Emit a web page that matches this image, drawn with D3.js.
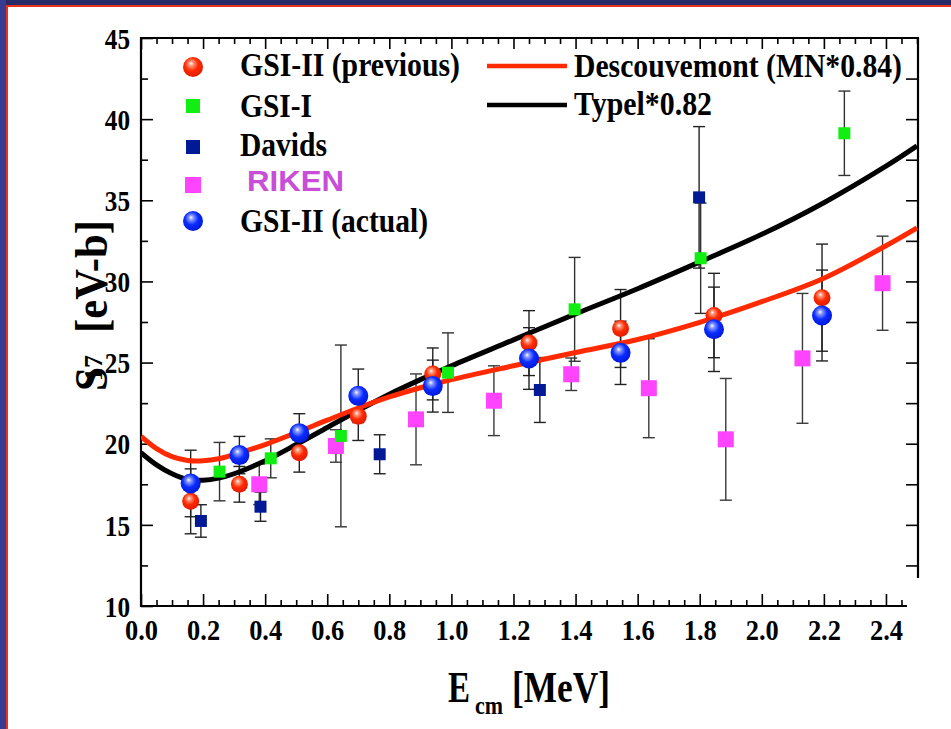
<!DOCTYPE html>
<html>
<head>
<meta charset="utf-8">
<script src="https://cdn.jsdelivr.net/npm/d3@7"></script>
<style>
  html, body { margin: 0; padding: 0; background: #fff; }
  svg { display: block; }
</style>
</head>
<body>
<svg id="chart" width="951" height="729"></svg>
<script>
// ---------------- DATA ----------------
const yTickValues = [10, 15, 20, 25, 30, 35, 40, 45];
const xTickValues = [0.0, 0.2, 0.4, 0.6, 0.8, 1.0, 1.2, 1.4, 1.6, 1.8, 2.0, 2.2, 2.4];

// GSI-II (previous)
const gsi2prevE   = [0.16, 0.317, 0.51, 0.70, 0.94, 1.25, 1.545, 1.846, 2.194];
const gsi2prevS   = [16.45, 17.5, 19.45, 21.7, 24.3, 26.2, 27.1, 27.9, 29.0];
const gsi2prevErr = [2.0, 1.1, 1.2, 1.5, 1.6, 2.0, 2.4, 2.6, 3.3];

// GSI-II (actual)
const gsi2actE   = [0.16, 0.317, 0.51, 0.70, 0.94, 1.25, 1.545, 1.846, 2.194];
const gsi2actS   = [17.55, 19.3, 20.65, 22.95, 23.55, 25.25, 25.6, 27.05, 27.9];
const gsi2actErr = [2.05, 1.15, 1.2, 1.65, 1.6, 1.9, 1.95, 2.6, 2.8];

// GSI-I
const gsi1E   = [0.253, 0.418, 0.644, 0.989, 1.397, 1.803, 2.266];
const gsi1S   = [18.28, 19.1, 20.48, 24.38, 28.28, 31.43, 39.13];
const gsi1Err = [1.8, 1.2, 5.6, 2.45, 3.2, 3.4, 2.6];

// Davids
const davidsE   = [0.193, 0.385, 0.769, 1.285, 1.798];
const davidsS   = [15.24, 16.12, 19.35, 23.31, 35.18];
const davidsErr = [1.0, 0.9, 1.2, 2.0, 4.36];

// RIKEN
const rikenE   = [0.381, 0.628, 0.886, 1.137, 1.386, 1.636, 1.884, 2.131, 2.389];
const rikenS   = [17.5, 19.86, 21.5, 22.65, 24.28, 23.42, 20.27, 25.26, 29.89];
const rikenErr = [1.25, 1.0, 2.8, 2.15, 1.0, 3.05, 3.75, 4.0, 2.9];

// Theory curves
const curveE     = [0, 0.05, 0.1, 0.15, 0.2, 0.25, 0.3, 0.4, 0.5, 0.6, 0.7, 0.8, 0.9, 1.0, 1.2, 1.4, 1.6, 1.8, 2.0, 2.2, 2.4, 2.5];
const descouvS   = [20.45, 19.7, 19.2, 18.97, 18.95, 19.07, 19.33, 19.95, 20.68, 21.45, 22.2, 22.88, 23.45, 23.95, 24.8, 25.62, 26.42, 27.48, 28.75, 30.2, 32.2, 33.3];
const typelS     = [19.45, 18.7, 18.15, 17.8, 17.75, 17.88, 18.15, 18.95, 19.95, 21.0, 22.05, 23.05, 23.95, 24.8, 26.4, 28.0, 29.55, 31.2, 32.9, 34.85, 37.1, 38.35];

const seriesNames = ["GSI-II (previous)", "GSI-I", "Davids", "RIKEN", "GSI-II (actual)"];
const curveNames  = ["Descouvemont (MN*0.84)", "Typel*0.82"];

// ---------------- DRAWING ----------------
const svg = d3.select("#chart");
const W = 951, H = 729;
const serif = "'Liberation Serif', 'Times New Roman', serif";

const x = d3.scaleLinear().domain([0, 2.5]).range([141, 917]);
const y = d3.scaleLinear().domain([10, 45]).range([606, 38]);

// background & frame border
svg.append("rect").attr("width", W).attr("height", H).attr("fill", "#fff");
svg.append("rect").attr("x", 0).attr("y", 0).attr("width", W).attr("height", 5).attr("fill", "#272a66");
svg.append("rect").attr("x", 0).attr("y", 5).attr("width", W).attr("height", 2).attr("fill", "#e8321c");
svg.append("rect").attr("x", 0).attr("y", 0).attr("width", 6).attr("height", H).attr("fill", "#373c92");
svg.append("rect").attr("x", 6).attr("y", 5).attr("width", 2).attr("height", H - 5).attr("fill", "#e8321c");

// gradients for spheres
const defs = svg.append("defs");
function sphereGrad(id, light, base, dark) {
  const g = defs.append("radialGradient").attr("id", id)
    .attr("cx", "45%").attr("cy", "40%").attr("r", "60%").attr("fx", "40%").attr("fy", "32%");
  g.append("stop").attr("offset", "0%").attr("stop-color", "#ffffff");
  g.append("stop").attr("offset", "18%").attr("stop-color", light);
  g.append("stop").attr("offset", "55%").attr("stop-color", base);
  g.append("stop").attr("offset", "100%").attr("stop-color", dark);
}
sphereGrad("gRed", "#ff9a80", "#ff2a00", "#e01a00");
sphereGrad("gBlue", "#8c9cff", "#0a2cff", "#0018d8");

defs.append("clipPath").attr("id", "plotClip").append("rect")
  .attr("x", 141).attr("y", 38).attr("width", 777).attr("height", 568);

// condense helper
function condense(sel, f) {
  sel.each(function () {
    const len = this.getComputedTextLength();
    d3.select(this).attr("textLength", len * f).attr("lengthAdjust", "spacingAndGlyphs");
  });
}

// ---- axes ----
const yMinor = d3.range(12.5, 45, 5);
const xMinor = d3.range(0, 2.5001, 0.05).filter(v => Math.abs(v * 5 - Math.round(v * 5)) > 1e-6);

function styleAxis(g) {
  g.select(".domain").remove();
  g.selectAll(".tick line").attr("stroke", "#000").attr("stroke-width", 1.6);
}

// left
const gl = svg.append("g").attr("transform", "translate(141,0)")
  .call(d3.axisLeft(y).tickValues(yTickValues).tickSize(-12).tickPadding(11).tickFormat(d3.format("d")));
styleAxis(gl);
gl.selectAll("text").attr("font-family", serif).attr("font-weight", "bold").attr("font-size", 30).attr("fill", "#000").attr("dy", "0.34em");
condense(gl.selectAll("text"), 0.84);
const glm = svg.append("g").attr("transform", "translate(141,0)")
  .call(d3.axisLeft(y).tickValues(yMinor).tickSize(-7).tickFormat(""));
styleAxis(glm);

// right (stops above the bottom)
const gr = svg.append("g").attr("transform", "translate(918,0)")
  .call(d3.axisRight(y).tickValues(yTickValues.concat(yMinor).filter(v => y(v) <= 578 && v < 45)).tickSize(-12).tickFormat(""));
styleAxis(gr);

// bottom
const gb = svg.append("g").attr("transform", "translate(0,606)")
  .call(d3.axisBottom(x).tickValues(xTickValues).tickSize(-12).tickPadding(13).tickFormat(d3.format(".1f")));
styleAxis(gb);
gb.selectAll("text").attr("font-family", serif).attr("font-weight", "bold").attr("font-size", 30).attr("fill", "#000");
condense(gb.selectAll("text"), 0.88);
const gbm = svg.append("g").attr("transform", "translate(0,606)")
  .call(d3.axisBottom(x).tickValues(xMinor.filter(v => x(v) <= 907)).tickSize(-6).tickFormat(""));
styleAxis(gbm);

// top
const gt = svg.append("g").attr("transform", "translate(0,38)")
  .call(d3.axisTop(x).tickValues(xTickValues).tickSize(-11).tickFormat(""));
styleAxis(gt);
const gtm = svg.append("g").attr("transform", "translate(0,38)")
  .call(d3.axisTop(x).tickValues(xMinor).tickSize(-6).tickFormat(""));
styleAxis(gtm);

// frame lines
const frame = svg.append("g").attr("stroke", "#000").attr("stroke-width", 2.2).attr("fill", "none");
frame.append("line").attr("x1", 141).attr("x2", 141).attr("y1", 37).attr("y2", 607);
frame.append("line").attr("x1", 140).attr("x2", 919).attr("y1", 38).attr("y2", 38);
frame.append("line").attr("x1", 918).attr("x2", 918).attr("y1", 37).attr("y2", 578);
frame.append("line").attr("x1", 140).attr("x2", 907).attr("y1", 606).attr("y2", 606);

// axis titles
svg.append("text").attr("x", 448).attr("y", 702).attr("font-family", serif).attr("font-weight", "bold")
  .attr("font-size", 45).attr("textLength", 22).attr("lengthAdjust", "spacingAndGlyphs").text("E");
svg.append("text").attr("x", 475).attr("y", 714).attr("font-family", serif).attr("font-weight", "bold")
  .attr("font-size", 26).attr("textLength", 28).attr("lengthAdjust", "spacingAndGlyphs").text("cm");
svg.append("text").attr("x", 512).attr("y", 702).attr("font-family", serif).attr("font-weight", "bold")
  .attr("font-size", 45).attr("textLength", 98).attr("lengthAdjust", "spacingAndGlyphs").text("[MeV]");

const yt = svg.append("g").attr("transform", "translate(107,391) rotate(-90)");
yt.append("text").attr("x", 0).attr("y", 0).attr("font-family", serif).attr("font-weight", "bold")
  .attr("font-size", 46).attr("textLength", 24).attr("lengthAdjust", "spacingAndGlyphs").text("S");
yt.append("text").attr("x", 10).attr("y", -5).attr("font-family", serif).attr("font-weight", "bold")
  .attr("font-size", 26).attr("textLength", 26).attr("lengthAdjust", "spacingAndGlyphs").text("17");
yt.append("text").attr("x", 58).attr("y", 0).attr("font-family", serif).attr("font-weight", "bold")
  .attr("font-size", 46).attr("textLength", 113).attr("lengthAdjust", "spacingAndGlyphs").text("[eV-b]");

// ---- plot content ----
const plot = svg.append("g").attr("clip-path", "url(#plotClip)");

function zip(E, S, Err) { return E.map((e, i) => ({ e, s: S[i], err: Err[i] })); }
const dPrev = zip(gsi2prevE, gsi2prevS, gsi2prevErr);
const dAct = zip(gsi2actE, gsi2actS, gsi2actErr);
const dG1 = zip(gsi1E, gsi1S, gsi1Err);
const dDav = zip(davidsE, davidsS, davidsErr);
const dRik = zip(rikenE, rikenS, rikenErr);

function errorBars(data, color) {
  const g = plot.append("g").attr("stroke", color).attr("stroke-width", 1.4).attr("fill", "none");
  data.forEach(d => {
    const cx = x(d.e), y1 = y(d.s + d.err), y2 = y(d.s - d.err);
    g.append("line").attr("x1", cx).attr("x2", cx).attr("y1", y1).attr("y2", y2);
    g.append("line").attr("x1", cx - 6).attr("x2", cx + 6).attr("y1", y1).attr("y2", y1);
    g.append("line").attr("x1", cx - 6).attr("x2", cx + 6).attr("y1", y2).attr("y2", y2);
  });
}
errorBars(dRik, "#3a3a3a");
errorBars(dDav, "#222");
errorBars(dG1, "#333");
errorBars(dPrev, "#222");
errorBars(dAct, "#222");

// curves
const line = d3.line().x(d => x(d[0])).y(d => y(d[1])).curve(d3.curveCatmullRom.alpha(0.5));
plot.append("path").datum(curveE.map((e, i) => [e, typelS[i]]))
  .attr("d", line).attr("fill", "none").attr("stroke", "#000").attr("stroke-width", 5);
plot.append("path").datum(curveE.map((e, i) => [e, descouvS[i]]))
  .attr("d", line).attr("fill", "none").attr("stroke", "#ff2a00").attr("stroke-width", 5);

// markers
function squares(data, color, size) {
  plot.append("g").selectAll("rect").data(data).join("rect")
    .attr("x", d => x(d.e) - size / 2).attr("y", d => y(d.s) - size / 2)
    .attr("width", size).attr("height", size).attr("fill", color);
}
function spheres(data, grad, r) {
  plot.append("g").selectAll("circle").data(data).join("circle")
    .attr("cx", d => x(d.e)).attr("cy", d => y(d.s)).attr("r", r).attr("fill", `url(#${grad})`);
}
squares(dRik, "#ff44ff", 16);
squares(dDav, "#001a96", 12);
squares(dG1, "#11ee11", 12);
spheres(dPrev, "gRed", 8.5);
spheres(dAct, "gBlue", 10);

// ---- legend ----
const leg = svg.append("g");
const legRows = [
  { type: "sphere", grad: "gRed", r: 10, cy: 67, base: 76, w: 220 },
  { type: "square", color: "#11ee11", size: 14, cy: 106, base: 117, w: 72 },
  { type: "square", color: "#001a96", size: 14, cy: 147, base: 156, w: 87 },
  { type: "square", color: "#ff44ff", size: 16, cy: 185, base: 191, w: 97 },
  { type: "sphere", grad: "gBlue", r: 10, cy: 221, base: 232, w: 188 }
];
legRows.forEach((r, i) => {
  if (r.type === "sphere") {
    leg.append("circle").attr("cx", 193).attr("cy", r.cy).attr("r", r.r).attr("fill", `url(#${r.grad})`);
  } else {
    leg.append("rect").attr("x", 193 - r.size / 2).attr("y", r.cy - r.size / 2)
      .attr("width", r.size).attr("height", r.size).attr("fill", r.color);
  }
  const isRiken = seriesNames[i] === "RIKEN";
  leg.append("text")
    .attr("x", isRiken ? 247 : 240).attr("y", r.base)
    .attr("font-family", isRiken ? "'Liberation Sans', Arial, sans-serif" : serif)
    .attr("font-weight", "bold")
    .attr("font-size", isRiken ? 30 : 33)
    .attr("fill", isRiken ? "#c84ed8" : "#000")
    .attr("textLength", r.w).attr("lengthAdjust", "spacingAndGlyphs")
    .text(seriesNames[i]);
});
const curveLeg = [
  { color: "#ff2a00", ly: 66, base: 77, w: 328 },
  { color: "#000", ly: 105, base: 115, w: 138 }
];
curveLeg.forEach((c, i) => {
  leg.append("line").attr("x1", 487).attr("x2", 567).attr("y1", c.ly).attr("y2", c.ly)
    .attr("stroke", c.color).attr("stroke-width", 4.5);
  leg.append("text").attr("x", 574).attr("y", c.base)
    .attr("font-family", serif).attr("font-weight", "bold").attr("font-size", 33)
    .attr("textLength", c.w).attr("lengthAdjust", "spacingAndGlyphs")
    .text(curveNames[i]);
});
</script>
</body>
</html>
